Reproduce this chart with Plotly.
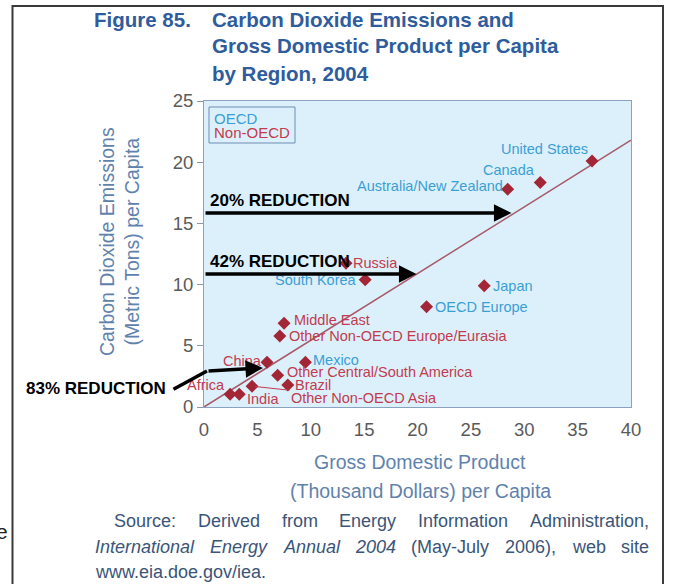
import plotly.graph_objects as go

# ---------------- data ----------------
regions = ["United States", "Canada", "Australia/New Zealand", "Russia", "South Korea",
           "Japan", "OECD Europe", "Middle East", "Other Non-OECD Europe/Eurasia", "China",
           "Mexico", "Other Central/South America", "Brazil", "Other Non-OECD Asia",
           "Africa", "India"]
gdp = [36.35, 31.5, 28.45, 13.3, 15.1, 26.25, 20.85, 7.5, 7.1, 5.9, 9.5, 6.9, 7.85, 4.5, 2.45, 3.3]
co2 = [20.1, 18.35, 17.8, 11.75, 10.4, 9.9, 8.2, 6.85, 5.8, 3.65, 3.65, 2.6, 1.8, 1.7, 1.05, 1.05]
group = ["OECD", "OECD", "OECD", "Non-OECD", "OECD", "OECD", "OECD", "Non-OECD", "Non-OECD",
         "Non-OECD", "OECD", "Non-OECD", "Non-OECD", "Non-OECD", "Non-OECD", "Non-OECD"]

trend_x = [0, 40]
trend_y = [0, 21.8]

# reduction arrows: label, y level, arrow end x
reductions = ["20% REDUCTION", "42% REDUCTION"]
red_y = [15.85, 10.87]
red_end = [28.8, 19.9]
# 83% arrow: start, bend, head (data units)
r83_x = [-3.0, 0.28, 5.53]
r83_y = [1.39, 2.94, 3.19]

x_ticks = [0, 5, 10, 15, 20, 25, 30, 35, 40]
y_ticks = [0, 5, 10, 15, 20, 25]

# ---------------- style ----------------
W, H = 673, 584
L, R, T, B = 204, 42, 101, 177
PW, PH = W - L - R, H - T - B
FONT = "Liberation Sans, Arial, sans-serif"
C_OECD = "#3b9fd5"
C_NON = "#c23b4f"
C_MARK = "#a32636"
C_TITLE = "#2e5c9c"
C_AXT = "#5f82ad"
C_SRC = "#3a5578"
C_TICK = "#5a5a5a"


def px(p):
    return (p - L) / PW


def py(p):
    return (H - B - p) / PH


# label placement: (xanchor, xshift, yshift)
label_pos = {
    "United States": ("right", -2, 12),
    "Canada": ("right", -3, 12),
    "Australia/New Zealand": ("right", -3, 3),
    "Russia": ("left", 5, 0),
    "South Korea": ("right", -6, 0),
    "Japan": ("left", 7, 0),
    "OECD Europe": ("left", 6, 0),
    "Middle East": ("left", 8, 3),
    "Other Non-OECD Europe/Eurasia": ("left", 7, 0),
    "China": ("right", -3, 1),
    "Mexico": ("left", 6, 2),
    "Other Central/South America": ("left", 7, 3),
    "Brazil": ("left", 5, 0),
    "Africa": ("right", -3, 9),
    "India": ("left", 6, -5),
}

fig = go.Figure()
fig.add_trace(go.Scatter(x=trend_x, y=trend_y, mode="lines",
                         line=dict(color="#a85a68", width=1.5), hoverinfo="skip"))
fig.add_trace(go.Scatter(x=gdp, y=co2, mode="markers", text=regions,
                         marker=dict(symbol="diamond", size=10, color=C_MARK,
                                     line=dict(width=0))))

ann = []
for name, gx, gy, g in zip(regions, gdp, co2, group):
    col = C_OECD if g == "OECD" else C_NON
    if name == "Other Non-OECD Asia":
        ann.append(dict(x=gx, y=gy, xref="x", yref="y", text=name, showarrow=True,
                        ax=112, ay=12, arrowhead=0, arrowwidth=1, arrowcolor=C_NON,
                        standoff=3, font=dict(family=FONT, size=14.5, color=col)))
        continue
    xa, dx, dy = label_pos[name]
    ann.append(dict(x=gx, y=gy, xref="x", yref="y", text=name, showarrow=False,
                    xanchor=xa, yanchor="middle", xshift=dx, yshift=dy,
                    font=dict(family=FONT, size=14.5, color=col)))

# reduction arrows
for lab, yy, xe in zip(reductions, red_y, red_end):
    ann.append(dict(x=xe, y=yy, xref="x", yref="y", ax=0, ay=yy, axref="x", ayref="y",
                    text="", showarrow=True, arrowhead=2, arrowsize=1, arrowwidth=3.5,
                    arrowcolor="black"))
    ann.append(dict(x=0.35, y=yy + 1.05, xref="x", yref="y", text="<b>%s</b>" % lab,
                    showarrow=False, xanchor="left", yanchor="middle",
                    font=dict(family=FONT, size=17, color="black")))
ann.append(dict(x=r83_x[1], y=r83_y[1], xref="x", yref="y", ax=r83_x[0], ay=r83_y[0],
                axref="x", ayref="y", text="", showarrow=True, arrowhead=0,
                arrowwidth=3.5, arrowcolor="black", standoff=0, startstandoff=0))
ann.append(dict(x=r83_x[2], y=r83_y[2], xref="x", yref="y", ax=r83_x[1], ay=r83_y[1],
                axref="x", ayref="y", text="", showarrow=True, arrowhead=2, arrowsize=1,
                arrowwidth=3.5, arrowcolor="black", standoff=0, startstandoff=0))
ann.append(dict(x=px(168), y=py(388), xref="paper", yref="paper", text="<b>83% REDUCTION</b>",
                showarrow=False, xanchor="right", yanchor="middle",
                font=dict(family=FONT, size=17, color="black")))

# legend
ann.append(dict(x=px(212), y=py(118), xref="paper", yref="paper", text="OECD",
                showarrow=False, xanchor="left", yanchor="middle",
                font=dict(family=FONT, size=15, color=C_OECD)))
ann.append(dict(x=px(212), y=py(132.5), xref="paper", yref="paper", text="Non-OECD",
                showarrow=False, xanchor="left", yanchor="middle",
                font=dict(family=FONT, size=15, color=C_NON)))

# title
ann.append(dict(x=px(92), y=py(19), xref="paper", yref="paper", text="<b>Figure 85.</b>",
                showarrow=False, xanchor="left", yanchor="middle",
                font=dict(family=FONT, size=20.5, color=C_TITLE)))
for txt, yy in zip(["Carbon Dioxide Emissions and", "Gross Domestic Product per Capita",
                    "by Region, 2004"], [19, 46, 73]):
    ann.append(dict(x=px(210), y=py(yy), xref="paper", yref="paper", text="<b>%s</b>" % txt,
                    showarrow=False, xanchor="left", yanchor="middle",
                    font=dict(family=FONT, size=20.5, color=C_TITLE)))

# axis titles
ann.append(dict(x=px(119), y=py(242), xref="paper", yref="paper",
                text="Carbon Dioxide Emissions<br>(Metric Tons) per Capita",
                showarrow=False, textangle=-90, xanchor="center", yanchor="middle",
                font=dict(family=FONT, size=19.5, color=C_AXT)))
for txt, yy in zip(["Gross Domestic Product", "(Thousand Dollars) per Capita"], [462, 491]):
    ann.append(dict(x=px(420), y=py(yy), xref="paper", yref="paper", text=txt,
                    showarrow=False, xanchor="center", yanchor="middle",
                    font=dict(family=FONT, size=19.5, color=C_AXT)))

# source text, justified word by word
AW = {' ': 278, '!': 278, '(': 333, ')': 333, ',': 278, '-': 333, '.': 278, '/': 278, ':': 278,
      'A': 667, 'B': 667, 'C': 722, 'D': 722, 'E': 667, 'F': 611, 'G': 778, 'H': 722, 'I': 278,
      'J': 500, 'K': 667, 'L': 556, 'M': 833, 'N': 722, 'O': 778, 'P': 667, 'Q': 778, 'R': 722,
      'S': 667, 'T': 611, 'U': 722, 'V': 667, 'W': 944, 'X': 667, 'Y': 667, 'Z': 611,
      'a': 556, 'b': 556, 'c': 500, 'd': 556, 'e': 556, 'f': 278, 'g': 556, 'h': 556, 'i': 222,
      'j': 222, 'k': 500, 'l': 222, 'm': 833, 'n': 556, 'o': 556, 'p': 556, 'q': 556, 'r': 333,
      's': 500, 't': 278, 'u': 556, 'v': 500, 'w': 722, 'x': 500, 'y': 500, 'z': 500}
SRC_SIZE = 18


def tw(s):
    return sum(AW.get(c, 556) for c in s) / 1000.0 * SRC_SIZE


src_lines = [
    (["Source:", "Derived", "from", "Energy", "Information", "Administration,"], 112, 647, 521),
    (["<i>International</i>", "<i>Energy</i>", "<i>Annual</i>", "<i>2004</i>", "(May-July",
      "2006),", "web", "site"], 93, 647, 547),
    (["www.eia.doe.gov/iea."], 93, None, 572),
]
for words, x0, x1, yy in src_lines:
    plain = [w.replace("<i>", "").replace("</i>", "") for w in words]
    widths = [tw(p) for p in plain]
    if x1 is None or len(words) == 1:
        gap = 0
    else:
        gap = (x1 - x0 - sum(widths)) / (len(words) - 1)
    xc = x0
    for w, wd in zip(words, widths):
        ann.append(dict(x=px(xc), y=py(yy), xref="paper", yref="paper", text=w,
                        showarrow=False, xanchor="left", yanchor="middle",
                        font=dict(family=FONT, size=SRC_SIZE, color=C_SRC)))
        xc += wd + gap

# stray letter at left edge
ann.append(dict(x=px(10), y=py(531), xref="paper", yref="paper", text="e",
                showarrow=False, xanchor="right", yanchor="middle",
                font=dict(family=FONT, size=21, color="#222")))

shapes = [
    dict(type="rect", xref="paper", yref="paper", x0=px(209), x1=px(295), y0=py(143), y1=py(107),
         line=dict(color="#6f8db3", width=1)),
    dict(type="rect", xref="paper", yref="paper", x0=px(12.5), x1=px(663), y0=py(595), y1=py(6),
         line=dict(color="#3a3a3a", width=2), fillcolor="rgba(0,0,0,0)", layer="above"),
]

fig.update_layout(
    width=W, height=H,
    margin=dict(l=L, r=R, t=T, b=B, pad=0),
    paper_bgcolor="white", plot_bgcolor="#dcf0fb",
    showlegend=False,
    annotations=ann, shapes=shapes,
    xaxis=dict(range=[0, 40], tickvals=x_ticks, showgrid=False, zeroline=False,
               showline=True, linecolor="#8aa2c0", linewidth=1, mirror=True,
               ticks="outside", ticklen=6, tickcolor="rgba(0,0,0,0)",
               tickfont=dict(family=FONT, size=18.5, color=C_TICK)),
    yaxis=dict(range=[0, 25], tickvals=y_ticks, showgrid=False, zeroline=False,
               showline=True, linecolor="#8aa2c0", linewidth=1, mirror=True,
               ticks="outside", ticklen=6, tickcolor="#8a96a8",
               tickfont=dict(family=FONT, size=18.5, color=C_TICK)),
)

fig.write_html("out.html", config={"displayModeBar": False},
               post_script="document.body.style.margin='0';document.body.style.overflow='hidden';")
